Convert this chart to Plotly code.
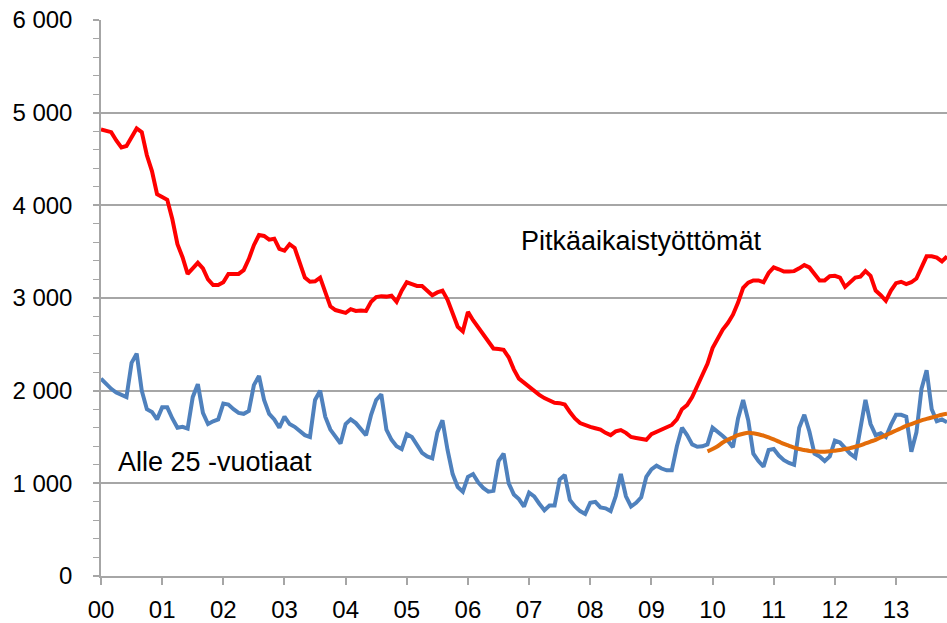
import plotly.graph_objects as go

# Monthly data, Jan 2000 .. Nov 2013
long_term = [
    4820, 4810, 4790, 4700, 4625, 4640, 4730, 4830, 4790, 4540, 4370, 4120,
    4090, 4060, 3850, 3580, 3440, 3260, 3320, 3380, 3320, 3200, 3140, 3140,
    3170, 3260, 3260, 3260, 3300, 3420, 3570, 3680, 3670, 3630, 3640, 3530,
    3510, 3580, 3540, 3380, 3220, 3175, 3180, 3220, 3060, 2910, 2870, 2860,
    2840, 2880, 2860, 2865, 2860, 2960, 3010, 3020, 3015, 3025, 2960, 3080,
    3170, 3150, 3130, 3130, 3080, 3030, 3060, 3080, 2980, 2840, 2690, 2640,
    2850, 2760, 2680, 2600, 2520, 2455, 2450, 2440, 2360, 2230, 2130, 2085,
    2050, 2000, 1955, 1920, 1895, 1870, 1865, 1850, 1770, 1700, 1650, 1625,
    1610, 1595, 1580, 1545, 1520, 1560, 1575, 1545, 1500, 1490, 1480, 1470,
    1530, 1555, 1575, 1600, 1630, 1690, 1800, 1845, 1930, 2050, 2160, 2290,
    2460, 2570, 2660, 2730, 2820, 2950, 3110, 3165, 3190, 3190, 3170, 3270,
    3330, 3310, 3285, 3285, 3290, 3320, 3355, 3330, 3260, 3190, 3190, 3235,
    3240, 3220, 3120, 3165, 3220, 3230, 3290, 3240, 3080, 3030, 2970, 3080,
    3160, 3175, 3150, 3170, 3210, 3330, 3450, 3450, 3435, 3395, 3450,
]

under25 = [
    2130, 2070, 2020, 1980, 1950, 1930, 2300, 2400, 2000, 1800, 1770, 1690,
    1820, 1820, 1700, 1600, 1610, 1590, 1930, 2070, 1760, 1640, 1670, 1690,
    1860, 1850, 1800, 1760, 1750, 1780, 2060, 2160, 1900, 1750, 1690, 1600,
    1720, 1640, 1610, 1560, 1520, 1500, 1900, 2000, 1720, 1580, 1500, 1430,
    1640, 1690, 1650, 1580, 1520, 1740, 1900, 1960, 1580, 1470, 1400, 1370,
    1530, 1500, 1420, 1330, 1290, 1270, 1550, 1680, 1360, 1100, 960, 910,
    1070, 1100, 1010, 950, 910, 920, 1240, 1320, 1000, 880, 830, 750,
    900, 860, 780, 710, 760, 760, 1040, 1090, 820, 750, 700, 670,
    790, 800, 740, 730, 700, 860, 1100, 860, 750, 790, 850, 1070,
    1150, 1190, 1160, 1140, 1140, 1400, 1600, 1520, 1420, 1395, 1400, 1420,
    1600, 1560, 1510, 1460, 1390, 1700, 1900, 1680, 1320, 1240, 1180, 1360,
    1370, 1300, 1250, 1220, 1200, 1600, 1740, 1560, 1320, 1290, 1240, 1290,
    1460, 1440, 1380, 1320, 1280, 1600, 1900, 1640, 1520, 1540, 1500, 1630,
    1740, 1740, 1720, 1340, 1550, 2020, 2220, 1800, 1670, 1690, 1660,
]

# Trend for under-25s, Dec 2009 .. Nov 2013
trend_start = 119
trend = [
    1345, 1370, 1400, 1440, 1470, 1495, 1520, 1535, 1545, 1540, 1530, 1515,
    1495, 1475, 1450, 1425, 1405, 1385, 1370, 1360, 1350, 1345, 1342, 1342,
    1345, 1352, 1360, 1370, 1380, 1395, 1410, 1430, 1450, 1470, 1495, 1520,
    1545, 1570, 1595, 1620, 1640, 1660, 1680, 1695, 1710, 1725, 1740, 1750,
]

year_labels = ["00", "01", "02", "03", "04", "05", "06", "07", "08", "09",
               "10", "11", "12", "13"]
y_ticks = [0, 1000, 2000, 3000, 4000, 5000, 6000]
y_tick_text = ["0", "1 000", "2 000", "3 000", "4 000", "5 000", "6 000"]

months = list(range(len(long_term)))
trend_x = list(range(trend_start, trend_start + len(trend)))

FONT = "Liberation Sans, Arial, sans-serif"
GRID = "#A6A6A6"

fig = go.Figure()
fig.add_trace(go.Scatter(x=months, y=under25, mode="lines",
                         line=dict(color="#4F81BD", width=4), showlegend=False))
fig.add_trace(go.Scatter(x=trend_x, y=trend, mode="lines",
                         line=dict(color="#E36C09", width=4, shape="spline"),
                         showlegend=False))
fig.add_trace(go.Scatter(x=months, y=long_term, mode="lines",
                         line=dict(color="#FF0000", width=4), showlegend=False))

fig.add_annotation(x=106, y=3610, text="Pitkäaikaistyöttömät", showarrow=False,
                   xanchor="center", yanchor="middle",
                   font=dict(family=FONT, size=27, color="black"))
fig.add_annotation(x=22.3, y=1230, text="Alle 25 -vuotiaat", showarrow=False,
                   xanchor="center", yanchor="middle",
                   font=dict(family=FONT, size=27, color="black"))

fig.update_layout(
    width=947, height=623,
    margin=dict(l=101, r=0, t=20, b=47),
    paper_bgcolor="white", plot_bgcolor="white",
    font=dict(family=FONT, size=24, color="black"),
)
fig.update_xaxes(
    automargin=False,
    range=[0, len(long_term) - 1],
    tickmode="array",
    tickvals=[12 * i for i in range(len(year_labels))],
    ticktext=year_labels,
    showgrid=False, zeroline=False,
    showline=True, linecolor=GRID, linewidth=1.5,
    ticks="outside", ticklen=7, tickcolor=GRID, tickwidth=1.5,
    ticklabelstandoff=4,
    tickfont=dict(family=FONT, size=24, color="black"),
)
fig.update_yaxes(
    automargin=False,
    range=[0, 6000],
    tickmode="array", tickvals=y_ticks, ticktext=y_tick_text,
    showgrid=True, gridcolor=GRID, gridwidth=1.5,
    zeroline=False,
    showline=True, linecolor=GRID, linewidth=1.5,
    ticks="outside", ticklen=6, tickcolor=GRID, tickwidth=1.5,
    minor=dict(dtick=200, tick0=0, ticks="outside", ticklen=6,
               tickcolor=GRID, tickwidth=1.2, showgrid=False),
    ticklabelstandoff=16,
    tickfont=dict(family=FONT, size=24, color="black"),
)

fig.write_html(
    "out.html",
    config={"displayModeBar": False},
    post_script="document.body.style.margin='0';document.body.style.overflow='hidden';",
)
